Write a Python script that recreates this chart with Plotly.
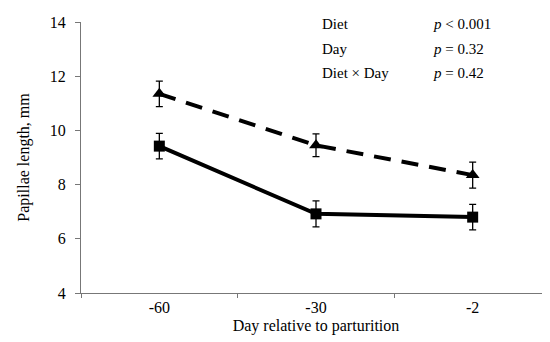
import plotly.graph_objects as go

days = ["-60", "-30", "-2"]
series_a_name = "Diet A"
series_a = [11.35, 9.45, 8.35]
series_a_err = [0.47, 0.42, 0.48]
series_b_name = "Diet B"
series_b = [9.42, 6.92, 6.8]
series_b_err = [0.47, 0.48, 0.47]
y_ticks = [4, 6, 8, 10, 12, 14]
stats_labels = ["Diet", "Day", "Diet × Day"]
stats_values = ["<i>p</i> < 0.001", "<i>p</i> = 0.32", "<i>p</i> = 0.42"]

FONT = "Liberation Serif, DejaVu Serif, serif"

fig = go.Figure()
fig.add_trace(go.Scatter(
    x=days, y=series_a, name=series_a_name, mode="lines+markers",
    line=dict(color="black", width=4, dash="17px,11px"),
    marker=dict(symbol="triangle-up", size=12, color="black"),
    error_y=dict(type="data", array=series_a_err, color="black", thickness=1.3, width=3.5),
))
fig.add_trace(go.Scatter(
    x=days, y=series_b, name=series_b_name, mode="lines+markers",
    line=dict(color="black", width=4),
    marker=dict(symbol="square", size=11, color="black"),
    error_y=dict(type="data", array=series_b_err, color="black", thickness=1.3, width=3.5),
))

row_y = [0.993, 0.900, 0.812]
for lab, val, yy in zip(stats_labels, stats_values, row_y):
    fig.add_annotation(x=0.5085, y=yy, xref="paper", yref="paper", text=lab,
                       showarrow=False, xanchor="left", yanchor="middle",
                       font=dict(family=FONT, size=15, color="black"))
    fig.add_annotation(x=0.745, y=yy, xref="paper", yref="paper", text=val,
                       showarrow=False, xanchor="left", yanchor="middle",
                       font=dict(family=FONT, size=15, color="black"))

fig.update_layout(
    width=550, height=342,
    margin=dict(l=73, r=7, t=14, b=57),
    paper_bgcolor="white", plot_bgcolor="white",
    showlegend=False,
    font=dict(family=FONT, size=16, color="black"),
    xaxis=dict(
        type="category", categoryorder="array", categoryarray=days,
        range=[-0.5, 2.5], tickson="boundaries",
        showline=True, linecolor="#777", linewidth=1,
        ticks="outside", ticklen=4, tickcolor="#777",
        showgrid=False, zeroline=False,
        title=dict(text="Day relative to parturition", standoff=4,
                   font=dict(family=FONT, size=16)),
        tickfont=dict(family=FONT, size=16),
    ),
    yaxis=dict(
        range=[4, 14], tickvals=y_ticks,
        showline=True, linecolor="#777", linewidth=1,
        ticks="outside", ticklen=5, tickcolor="#777",
        ticklabelstandoff=6,
        showgrid=False, zeroline=False,
        title=dict(text="Papillae length, mm", standoff=16,
                   font=dict(family=FONT, size=16)),
        tickfont=dict(family=FONT, size=16),
    ),
)

fig.write_html("out.html")
